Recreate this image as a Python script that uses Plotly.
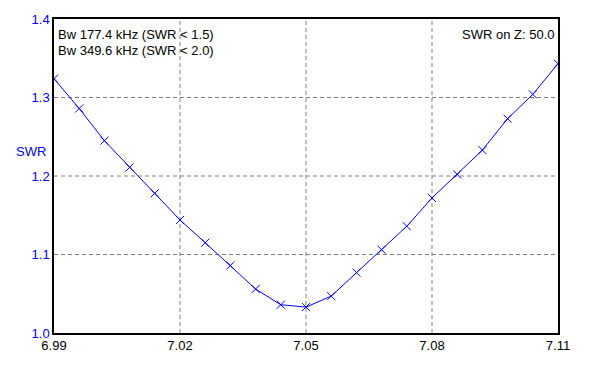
import plotly.graph_objects as go

freq_mhz = [6.990, 6.996, 7.002, 7.008, 7.014, 7.020, 7.026, 7.032, 7.038, 7.044,
            7.050, 7.056, 7.062, 7.068, 7.074, 7.080, 7.086, 7.092, 7.098, 7.104, 7.110]
swr = [1.324, 1.286, 1.245, 1.211, 1.178, 1.144, 1.115, 1.086, 1.056, 1.036,
       1.033, 1.047, 1.077, 1.106, 1.136, 1.172, 1.202, 1.233, 1.273, 1.304, 1.343]

x_ticks = [6.99, 7.02, 7.05, 7.08, 7.11]
x_tick_labels = ["6.99", "7.02", "7.05", "7.08", "7.11"]
y_ticks = [1.0, 1.1, 1.2, 1.3, 1.4]
y_tick_labels = ["1.0", "1.1", "1.2", "1.3", "1.4"]

bw_lines = ["Bw 177.4 kHz (SWR < 1.5)", "Bw 349.6 kHz (SWR < 2.0)"]
z_label = "SWR on Z: 50.0"
y_title = "SWR"

FONT = "Liberation Sans, Arial, sans-serif"
BLUE = "#0000ff"

fig = go.Figure()
fig.add_trace(go.Scatter(
    x=freq_mhz, y=swr, mode="lines+markers",
    line=dict(color=BLUE, width=1),
    marker=dict(symbol="x-thin", size=8, line=dict(color=BLUE, width=1), color=BLUE),
    showlegend=False, hoverinfo="x+y",
))

grid_dash = "4px,3px"
for xv in x_ticks[1:-1]:
    fig.add_shape(type="line", xref="x", yref="paper", x0=xv, x1=xv, y0=0, y1=1,
                  line=dict(color="#808080", width=1, dash=grid_dash), layer="below")
for yv in y_ticks[1:-1]:
    fig.add_shape(type="line", xref="paper", yref="y", x0=0, x1=1, y0=yv, y1=yv,
                  line=dict(color="#808080", width=1, dash=grid_dash), layer="below")

fig.update_xaxes(range=[6.99, 7.11], tickvals=x_ticks, ticktext=x_tick_labels,
                 showgrid=False, zeroline=False, showline=True, mirror=True,
                 linecolor="black", linewidth=1.5, ticks="",
                 tickfont=dict(family=FONT, size=13, color="black"))
fig.update_yaxes(range=[1.0, 1.4], tickvals=y_ticks, ticktext=y_tick_labels,
                 showgrid=False, zeroline=False, showline=True, mirror=True,
                 linecolor="black", linewidth=1.5, ticks="",
                 tickfont=dict(family=FONT, size=13, color=BLUE))

fig.add_annotation(xref="paper", yref="paper", x=2 / 504, y=1 - 16 / 324,
                   xanchor="left", yanchor="middle", showarrow=False,
                   text=bw_lines[0], font=dict(family=FONT, size=13, color="black"))
fig.add_annotation(xref="paper", yref="paper", x=2 / 504, y=1 - 32 / 324,
                   xanchor="left", yanchor="middle", showarrow=False,
                   text=bw_lines[1], font=dict(family=FONT, size=13, color="black"))
fig.add_annotation(xref="paper", yref="paper", x=1 - 2 / 504, y=1 - 16 / 324,
                   xanchor="right", yanchor="middle", showarrow=False,
                   text=z_label, font=dict(family=FONT, size=13, color="black"))
fig.add_annotation(xref="paper", yref="paper", x=-6 / 504, y=1 - 137 / 324,
                   xanchor="right", yanchor="middle", showarrow=False,
                   text=y_title, font=dict(family=FONT, size=13, color=BLUE))

fig.update_layout(
    width=598, height=365,
    margin=dict(l=54, r=40, t=12, b=29),
    paper_bgcolor="white", plot_bgcolor="white",
    font=dict(family=FONT),
)

fig.write_html("out.html", config={"displayModeBar": False},
               post_script="document.body.style.margin='0';document.body.style.padding='0';")
